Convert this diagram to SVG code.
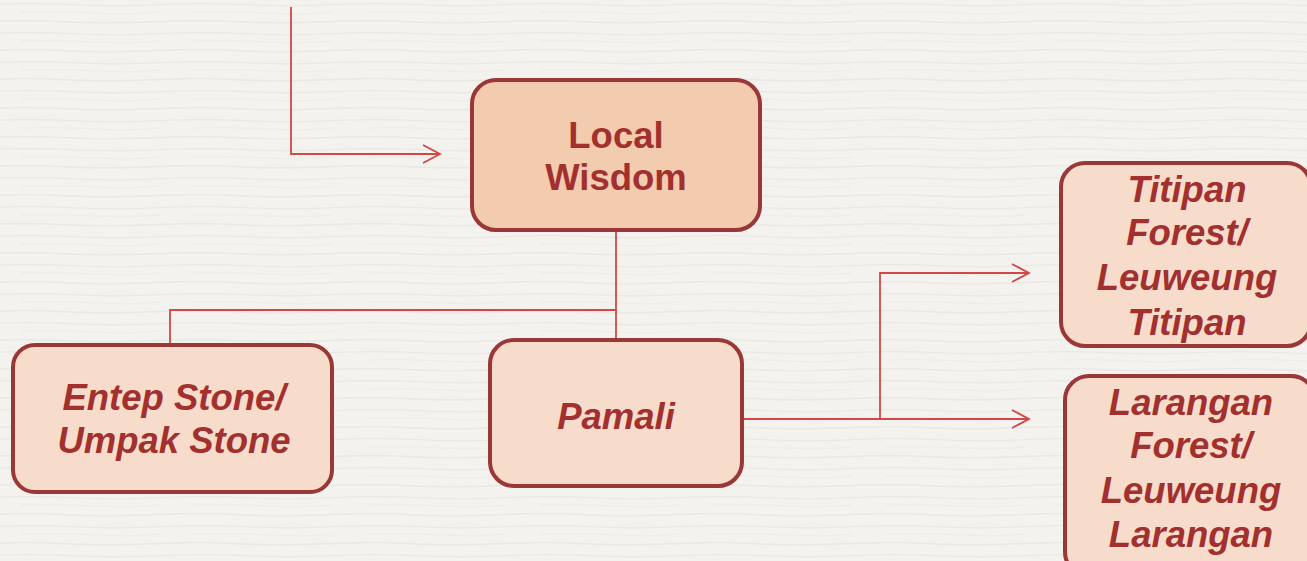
<svg xmlns="http://www.w3.org/2000/svg" width="1307" height="561" viewBox="0 0 1307 561">
  <defs>
    <pattern id="tex" width="173" height="29" patternUnits="userSpaceOnUse">
      <rect width="173" height="29" fill="#f3f2ee"/>
      <path d="M0 4 Q40 3 80 5 T173 4" stroke="#e9e8e3" stroke-width="1.2" fill="none"/>
      <path d="M20 12 Q60 11 95 13 T160 12" stroke="#edece7" stroke-width="1" fill="none"/>
      <path d="M0 21 Q35 20 70 22 T173 21" stroke="#e9e8e3" stroke-width="1.3" fill="none"/>
    </pattern>
    <marker id="arr" viewBox="0 0 20 20" refX="18" refY="10" markerWidth="20" markerHeight="20" markerUnits="userSpaceOnUse" orient="auto">
      <path d="M1 1 L18 10 L1 19" fill="none" stroke="#d04848" stroke-width="1.8"/>
    </marker>
    <style>
      .box{stroke:#9a3838;stroke-width:4}
      .main{fill:#f3cbae}
      .sub{fill:#f7dccb}
      .lbl{font-family:"Liberation Sans",Arial,sans-serif;font-size:36.5px;font-weight:bold;fill:#a2302f;text-anchor:middle}
      .it{font-style:italic}
      .con{fill:none;stroke:#d04848;stroke-width:1.8}
    </style>
  </defs>
  <rect width="1307" height="561" fill="url(#tex)"/>
  <g id="connectors">
    <path class="con" d="M291 7 V154 H440" marker-end="url(#arr)"/>
    <path class="con" d="M616 230 V338"/>
    <path class="con" d="M616 310 H170 V345"/>
    <path class="con" d="M743 419 H880 V273 H1029" marker-end="url(#arr)"/>
    <path class="con" d="M880 419 H1029" marker-end="url(#arr)"/>
  </g>
  <g id="local-wisdom">
    <rect class="box main" x="472" y="80" width="288" height="150" rx="24"/>
    <text class="lbl" x="616" y="148">Local</text>
    <text class="lbl" x="616" y="190">Wisdom</text>
  </g>
  <g id="entep-stone">
    <rect class="box sub" x="13" y="345" width="319" height="147" rx="22"/>
    <text class="lbl it" x="174" y="410">Entep Stone/</text>
    <text class="lbl it" x="174" y="453">Umpak Stone</text>
  </g>
  <g id="pamali">
    <rect class="box sub" x="490" y="340" width="252" height="146" rx="24"/>
    <text class="lbl it" x="616" y="429">Pamali</text>
  </g>
  <g id="titipan-forest">
    <rect class="box sub" x="1061" y="163" width="250" height="183" rx="24"/>
    <text class="lbl it" x="1187" y="202">Titipan</text>
    <text class="lbl it" x="1187" y="245">Forest/</text>
    <text class="lbl it" x="1187" y="290">Leuweung</text>
    <text class="lbl it" x="1187" y="335">Titipan</text>
  </g>
  <g id="larangan-forest">
    <rect class="box sub" x="1065" y="376" width="250" height="200" rx="24"/>
    <text class="lbl it" x="1191" y="415">Larangan</text>
    <text class="lbl it" x="1191" y="458">Forest/</text>
    <text class="lbl it" x="1191" y="503">Leuweung</text>
    <text class="lbl it" x="1191" y="547">Larangan</text>
  </g>
</svg>
